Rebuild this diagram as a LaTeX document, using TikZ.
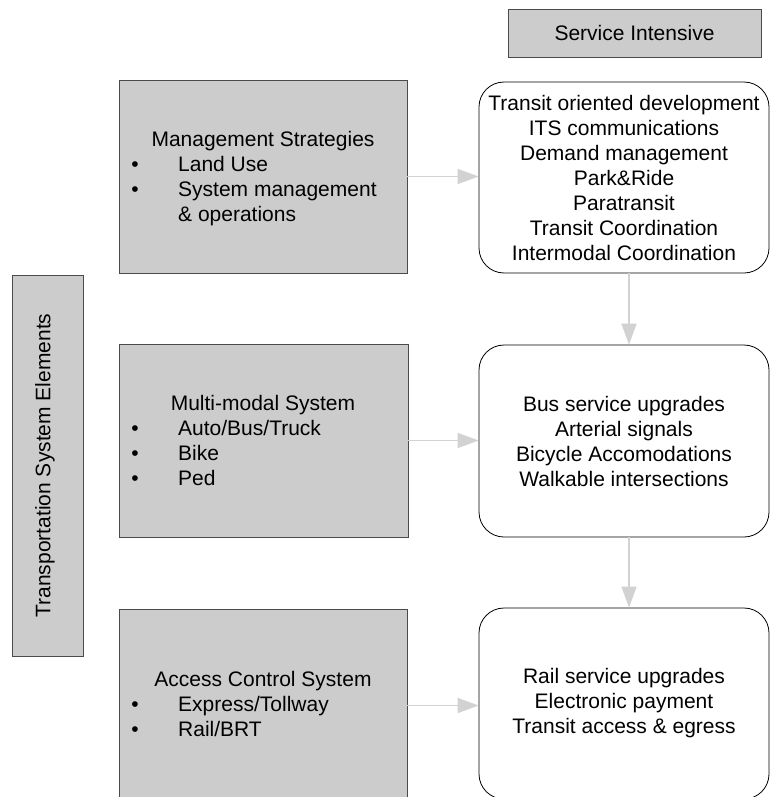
\documentclass[tikz,border=0pt]{standalone}
\usepackage{fontspec}
\setmainfont{Liberation Sans}
\usetikzlibrary{arrows.meta}

\definecolor{boxgrey}{HTML}{CCCCCC}
\definecolor{edgegrey}{HTML}{4A4A4A}
\definecolor{arrowgrey}{HTML}{D2D2D2}

\tikzset{
  greybox/.style={draw=edgegrey, fill=boxgrey, line width=0.8pt, inner sep=0pt},
  roundbox/.style={draw=black, fill=white, line width=0.8pt, rounded corners=25pt,
    inner sep=0pt, align=center, font=\fontsize{21}{25}\selectfont},
  txt/.style={font=\fontsize{21}{25}\selectfont, inner sep=0pt},
  flow/.style={draw=arrowgrey, line width=1.6pt, -{Triangle[length=21pt,width=15pt,fill=arrowgrey]}},
}

\begin{document}
\begin{tikzpicture}[x=1pt,y=-1pt]
        \useasboundingbox (0,0) rectangle (770,797);

        % header and side label
        \node[greybox, txt, minimum width=253pt, minimum height=48pt] (service) at (634.5,33) {Service Intensive};
        \node[greybox, minimum width=71pt, minimum height=381pt] (elements) at (47.5,465.5) {};
        \node[txt, rotate=90] (elemtext) at (45,465.5) {Transportation System Elements};

        % left column
        \node[greybox, minimum width=288pt, minimum height=193pt] (mgmt) at (263,176.5) {};
        \node[txt, anchor=base] (mgmthead) at (263,146.5) {Management Strategies};
        \node[txt, anchor=base] at (135,171.5) {\textbullet};
        \node[txt, anchor=base west] at (178,171.5) {Land Use};
        \node[txt, anchor=base] at (135,196.5) {\textbullet};
        \node[txt, anchor=base west] at (178,196.5) {System management};
        \node[txt, anchor=base west] at (178,221.5) {\& operations};

        \node[greybox, minimum width=289pt, minimum height=193pt] (modal) at (263.5,440.5) {};
        \node[txt, anchor=base] (modalhead) at (263,410) {Multi-modal System};
        \node[txt, anchor=base] at (135,435) {\textbullet};
        \node[txt, anchor=base west] at (178,435) {Auto/Bus/Truck};
        \node[txt, anchor=base] at (135,460) {\textbullet};
        \node[txt, anchor=base west] at (178,460) {Bike};
        \node[txt, anchor=base] at (135,485) {\textbullet};
        \node[txt, anchor=base west] at (178,485) {Ped};

        \node[greybox, minimum width=288pt, minimum height=193pt] (access) at (263,705.5) {};
        \node[txt, anchor=base] (accesshead) at (263,686.5) {Access Control System};
        \node[txt, anchor=base] at (135,711.5) {\textbullet};
        \node[txt, anchor=base west] at (178,711.5) {Express/Tollway};
        \node[txt, anchor=base] at (135,736.5) {\textbullet};
        \node[txt, anchor=base west] at (178,736.5) {Rail/BRT};

        % right column
        \node[roundbox, minimum width=290pt, minimum height=191pt] (tod) at (624,177.5)
          {Transit oriented development\\ITS communications\\Demand management\\Park\&Ride\\Paratransit\\Transit Coordination\\Intermodal Coordination};
        \node[roundbox, minimum width=290pt, minimum height=192pt] (bus) at (624,441)
          {Bus service upgrades\\Arterial signals\\Bicycle Accomodations\\Walkable intersections};
        \node[roundbox, minimum width=290pt, minimum height=191pt] (rail) at (624,703.5)
          {Rail service upgrades\\Electronic payment\\Transit access \& egress};

        % connectors
        \draw[flow] (mgmt.east) -- (mgmt.east -| tod.west);
        \draw[flow] (modal.east) -- (modal.east -| bus.west);
        \draw[flow] (access.east) -- (access.east -| rail.west);
        \draw[flow] ([xshift=5pt]tod.south) -- ([xshift=5pt]bus.north);
        \draw[flow] ([xshift=5pt]bus.south) -- ([xshift=5pt]rail.north);
        \end{tikzpicture}
\end{document}
